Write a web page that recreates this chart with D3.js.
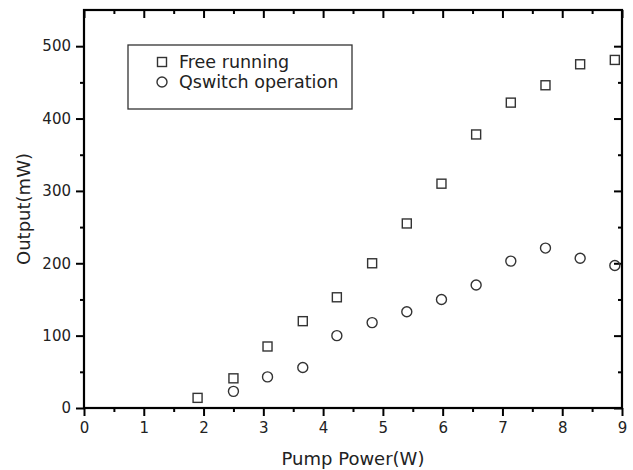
<!DOCTYPE html>
<html>
<head>
<meta charset="utf-8">
<script src="https://cdn.jsdelivr.net/npm/d3@7"></script>
<style>
  body { margin: 0; background: #fff; }
  text { font-family: "DejaVu Sans", sans-serif; fill: #222; }
</style>
</head>
<body>
<div id="chart"></div>
<script>
// data
const pumpPower = [1.9, 2.5, 3.07, 3.66, 4.23, 4.82, 5.4, 5.98, 6.56, 7.14, 7.72, 8.3, 8.88];
const freeRunning = [14, 41, 85, 120, 153, 200, 255, 310, 378, 422, 446, 475, 481];
const qswitchPower = [2.5, 3.07, 3.66, 4.23, 4.82, 5.4, 5.98, 6.56, 7.14, 7.72, 8.3, 8.88];
const qswitch = [23, 43, 56, 100, 118, 133, 150, 170, 203, 221, 207, 197];
const xTicks = [0, 1, 2, 3, 4, 5, 6, 7, 8, 9];
const yTicks = [0, 100, 200, 300, 400, 500];
const legendLabels = ["Free running", "Qswitch operation"];

const W = 633, H = 470;
const margin = { top: 10, right: 11, bottom: 62, left: 84 };
const width = W - margin.left - margin.right;
const height = H - margin.top - margin.bottom;

const svg = d3.select("#chart").append("svg")
    .attr("width", W)
    .attr("height", H);

const g = svg.append("g")
    .attr("transform", `translate(${margin.left},${margin.top})`);

const x = d3.scaleLinear().domain([0, 9]).range([0, width]);
const y = d3.scaleLinear().domain([0, 550]).range([height, 0]);

const xMinor = d3.range(0.5, 9, 1);
const yMinor = d3.range(50, 550, 100);

function styleAxis(sel) {
    sel.select(".domain").remove();
    sel.selectAll(".tick line").attr("stroke", "#000").attr("stroke-width", 2);
    sel.selectAll(".tick text").attr("font-size", 15).style("fill", "#222");
}

// bottom
g.append("g").attr("transform", `translate(0,${height})`)
    .call(d3.axisBottom(x).tickValues(xMinor).tickSize(4).tickFormat(""))
    .call(styleAxis);
g.append("g").attr("transform", `translate(0,${height})`)
    .call(d3.axisBottom(x).tickValues(xTicks).tickSize(8).tickPadding(6).tickFormat(d3.format("d")))
    .call(styleAxis);
// top, inward
g.append("g")
    .call(d3.axisBottom(x).tickValues(xMinor).tickSize(4).tickFormat(""))
    .call(styleAxis);
g.append("g")
    .call(d3.axisBottom(x).tickValues(xTicks).tickSize(8).tickFormat(""))
    .call(styleAxis);
// left
g.append("g")
    .call(d3.axisLeft(y).tickValues(yMinor).tickSize(4).tickFormat(""))
    .call(styleAxis);
g.append("g")
    .call(d3.axisLeft(y).tickValues(yTicks).tickSize(8).tickPadding(5).tickFormat(d3.format("d")))
    .call(styleAxis);
// right, inward
g.append("g").attr("transform", `translate(${width},0)`)
    .call(d3.axisLeft(y).tickValues(yMinor).tickSize(4).tickFormat(""))
    .call(styleAxis);
g.append("g").attr("transform", `translate(${width},0)`)
    .call(d3.axisLeft(y).tickValues(yTicks).tickSize(8).tickFormat(""))
    .call(styleAxis);

// frame
g.append("rect")
    .attr("width", width).attr("height", height)
    .attr("fill", "none").attr("stroke", "#000").attr("stroke-width", 2.2);

// markers
const sq = 9;
g.selectAll(".sq")
    .data(pumpPower.map((p, i) => [p, freeRunning[i]]))
    .enter().append("rect")
    .attr("x", d => x(d[0]) - sq / 2)
    .attr("y", d => y(d[1]) - sq / 2)
    .attr("width", sq).attr("height", sq)
    .attr("fill", "none").attr("stroke", "#333").attr("stroke-width", 1.4);

g.selectAll(".ci")
    .data(qswitchPower.map((p, i) => [p, qswitch[i]]))
    .enter().append("circle")
    .attr("cx", d => x(d[0]))
    .attr("cy", d => y(d[1]))
    .attr("r", 5)
    .attr("fill", "none").attr("stroke", "#333").attr("stroke-width", 1.4);

// legend
const lg = svg.append("g");
lg.append("rect")
    .attr("x", 128).attr("y", 45).attr("width", 224).attr("height", 64)
    .attr("fill", "#fff").attr("stroke", "#333").attr("stroke-width", 1.3);
lg.append("rect")
    .attr("x", 162 - 4.5).attr("y", 62 - 4.5).attr("width", 9).attr("height", 9)
    .attr("fill", "none").attr("stroke", "#333").attr("stroke-width", 1.4);
lg.append("circle")
    .attr("cx", 162).attr("cy", 82).attr("r", 5)
    .attr("fill", "none").attr("stroke", "#333").attr("stroke-width", 1.4);
lg.selectAll(".lt")
    .data(legendLabels)
    .enter().append("text")
    .attr("x", 179)
    .attr("y", (d, i) => 62 + i * 20)
    .attr("dy", "0.35em")
    .attr("font-size", 17.5)
    .text(d => d);

// axis titles
svg.append("text")
    .attr("x", margin.left + width / 2)
    .attr("y", 465)
    .attr("text-anchor", "middle")
    .attr("font-size", 18)
    .text("Pump Power(W)");

svg.append("text")
    .attr("transform", `translate(30,${margin.top + height / 2}) rotate(-90)`)
    .attr("text-anchor", "middle")
    .attr("font-size", 18)
    .text("Output(mW)");
</script>
</body>
</html>
